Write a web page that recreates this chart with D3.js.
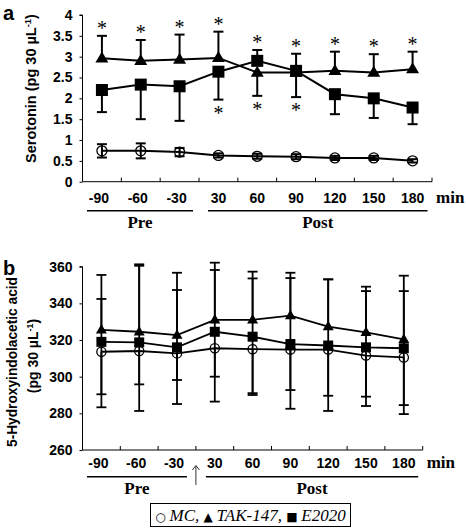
<!DOCTYPE html>
<html><head><meta charset="utf-8">
<script src="https://cdn.jsdelivr.net/npm/d3@7"></script>
<style>
body{margin:0;background:#fff;}
svg{display:block;}
</style></head>
<body>
<svg id="chart" width="466" height="528"></svg>
<script>
// ---------- data ----------
const categories = ["-90","-60","-30","30","60","90","120","150","180"];

// Panel a: Serotonin
const yTicksA = [0,0.5,1,1.5,2,2.5,3,3.5,4];
const mcA = [0.74,0.74,0.71,0.63,0.61,0.60,0.57,0.57,0.50];
const mcAErr = [0.16,0.18,0.10,0.05,0.06,0.06,0.05,0.05,0.04];
const takA = [2.96,2.90,2.93,2.97,2.62,2.62,2.66,2.62,2.70];
const takAErrUp = [0.54,0.50,0.60,0.63,0,0,0.46,0.44,0.42];
const takAErrDown = [0,0,0,0,0.56,0.59,0,0,0];
const e2020A = [2.20,2.33,2.29,2.64,2.90,2.66,2.10,2.00,1.78];
const e2020AErrUp = [0,0,0,0,0.26,0.41,0,0,0];
const e2020AErrDown = [0.53,0.83,0.83,0.67,0,0,0.48,0.47,0.40];
const sigAbove = [true,true,true,true,true,true,true,true,true];
const sigBelow = [false,false,false,true,true,true,false,false,false];

// Panel b: 5-Hydroxyindolacetic acid
const yTicksB = [260,280,300,320,340,360];
const mcB = [313.6,314.0,312.7,315.5,315.0,314.8,314.8,311.5,310.5];
const mcBErrDown = [30.3,32.7,27.6,29.1,25.0,32.3,33.5,27.5,30.9];
const takB = [325.5,324.5,322.7,331.0,331.0,333.3,327.3,324.2,320.4];
const takBErrUp = [30.0,36.8,34.0,31.2,26.3,23.4,25.8,24.9,34.7];
const e2020B = [319.0,318.7,316.0,324.5,321.8,317.8,317.0,316.0,315.5];
const e2020BErrUp = [23.4,41.8,31.3,33.7,31.8,36.0,36.1,30.7,31.2];
const e2020BErrDown = [28.6,22.9,17.8,24.5,30.8,25.1,27.4,26.9,31.0];

const preLabel = "Pre", postLabel = "Post", unitLabel = "min";

// ---------- drawing ----------
const svg = d3.select("#chart");
const SANS = "'Liberation Sans', Arial, sans-serif";
const SERIF = "'Liberation Serif', 'Times New Roman', serif";

function zeros(n){return new Array(n).fill(0);}

function drawPanel(o){
  const x = d3.scaleBand().domain(categories).range([o.x0,o.x1]).padding(0);
  const y = d3.scaleLinear().domain(o.yDomain).range([o.yBottom,o.yTop]);
  const g = svg.append("g");

  // y axis
  const yAxis = d3.axisLeft(y).tickValues(o.yTicks).tickSize(3).tickPadding(7)
     .tickFormat(d=>d3.format(o.yFmt)(d));
  const ya = g.append("g").attr("transform",`translate(${o.x0},0)`).call(yAxis);
  ya.select(".domain").attr("d",`M-3,${y(o.yTicks[o.yTicks.length-1])}H0V${o.yBottom}`).attr("stroke","#000").attr("stroke-width",1);
  ya.selectAll(".tick line").attr("stroke","#000");
  ya.selectAll("text").attr("font-family",SANS).attr("font-weight","bold").attr("font-size",14).attr("fill","#000");

  // x axis: line with upward ticks at band boundaries
  g.append("line").attr("x1",o.x0).attr("x2",o.x1).attr("y1",o.yBottom).attr("y2",o.yBottom)
    .attr("stroke","#000").attr("stroke-width",1);
  const bounds = categories.map(c=>x(c)).concat([o.x1]).slice(1);
  g.selectAll(".xt").data(bounds).join("line")
    .attr("x1",d=>d).attr("x2",d=>d).attr("y1",o.yBottom).attr("y2",o.yBottom-4)
    .attr("stroke","#000").attr("stroke-width",1);
  g.selectAll(".xl").data(categories).join("text")
    .attr("x",d=>x(d)+x.bandwidth()/2 - (d.startsWith("-")?3:0))
    .attr("y",o.yBottom+o.xLabelDy)
    .attr("text-anchor","middle").attr("font-family",SANS).attr("font-weight","bold")
    .attr("font-size",14).text(d=>d);
  g.append("text").attr("x",o.x1+4).attr("y",o.yBottom+o.xLabelDy)
    .attr("font-family",SERIF).attr("font-weight","bold").attr("font-size",17).text(unitLabel);

  // Pre / Post
  const bw = x.bandwidth();
  const preStart = x(categories[0])+4.5, preEnd = x(categories[2])+bw-o.preEndGap;
  const postStart = x(categories[3])+o.postStartGap, postEnd = o.x1-4.5;
  const ly = o.yBottom+o.lineDy;
  [[preStart,preEnd],[postStart,postEnd]].forEach(([a,b])=>{
    g.append("line").attr("x1",a).attr("x2",b).attr("y1",ly).attr("y2",ly).attr("stroke","#000").attr("stroke-width",1.5);
  });
  g.append("text").attr("x",(preStart+preEnd)/2).attr("y",ly+17.5).attr("text-anchor","middle")
    .attr("font-family",SERIF).attr("font-weight","bold").attr("font-size",17).text(preLabel);
  g.append("text").attr("x",(postStart+postEnd)/2).attr("y",ly+17.5).attr("text-anchor","middle")
    .attr("font-family",SERIF).attr("font-weight","bold").attr("font-size",17).text(postLabel);

  const cx = c=>x(c)+bw/2;
  // lines
  o.series.forEach(s=>{
    const line = d3.line().x((d,i)=>cx(categories[i])).y(d=>y(d));
    g.append("path").datum(s.values).attr("d",line).attr("fill","none")
      .attr("stroke","#000").attr("stroke-width",o.lineW);
  });
  // markers
  o.series.forEach(s=>{
    s.values.forEach((v,i)=>{
      const px = cx(categories[i]), py = y(v);
      if(s.shape==="circle"){
        g.append("circle").attr("cx",px).attr("cy",py).attr("r",o.circR)
          .attr("fill","none").attr("stroke","#000").attr("stroke-width",1.3);
      } else if(s.shape==="square"){
        const h=o.sqS/2;
        g.append("rect").attr("x",px-h).attr("y",py-h).attr("width",o.sqS).attr("height",o.sqS).attr("fill","#000");
      } else {
        const w=o.triW/2, hh=o.triH;
        g.append("path").attr("d",`M${px},${py-hh*0.62}L${px+w},${py+hh*0.38}L${px-w},${py+hh*0.38}Z`).attr("fill","#000");
      }
    });
  });
  // error bars
  o.series.forEach(s=>{
    s.values.forEach((v,i)=>{
      const px = cx(categories[i]);
      const up = s.errUp[i], dn = s.errDown[i];
      [[up,1],[dn,-1]].forEach(([e,sgn])=>{
        if(!e) return;
        const yEnd = y(v+sgn*e);
        g.append("line").attr("x1",px).attr("x2",px).attr("y1",y(v)).attr("y2",yEnd)
          .attr("stroke","#000").attr("stroke-width",o.errW);
        g.append("line").attr("x1",px-o.capW/2).attr("x2",px+o.capW/2).attr("y1",yEnd).attr("y2",yEnd)
          .attr("stroke","#000").attr("stroke-width",o.errW);
      });
    });
  });
  // significance asterisks
  if(o.sig){
    categories.forEach((c,i)=>{
      const px = cx(c);
      let hi=-Infinity, lo=Infinity;
      o.series.forEach(s=>{
        if(s.errUp[i]) hi=Math.max(hi,s.values[i]+s.errUp[i]);
        if(s.errDown[i] && s.shape!=="circle") lo=Math.min(lo,s.values[i]-s.errDown[i]);
      });
      if(o.sig.above[i] && isFinite(hi)){
        g.append("text").attr("x",px).attr("y",y(hi)-1).attr("text-anchor","middle")
          .attr("font-family",SERIF).attr("font-size",20).text("*");
      }
      if(o.sig.below[i] && isFinite(lo)){
        g.append("text").attr("x",px).attr("y",y(lo)+20).attr("text-anchor","middle")
          .attr("font-family",SERIF).attr("font-size",20).text("*");
      }
    });
  }
  return {x,y,g};
}

// Panel a
const pa = drawPanel({
  x0:82.5, x1:432, yTop:15, yBottom:181.7, yDomain:[0,4], yTicks:yTicksA, yFmt:"",
  xLabelDy:21, lineDy:29, preEndGap:6, postStartGap:9,
  lineW:2, errW:2, capW:10, circR:5, sqS:12, triW:13, triH:11,
  series:[
    {values:mcA, errUp:mcAErr, errDown:mcAErr, shape:"circle"},
    {values:takA, errUp:takAErrUp, errDown:takAErrDown, shape:"triangle"},
    {values:e2020A, errUp:e2020AErrUp, errDown:e2020AErrDown, shape:"square"}
  ],
  sig:{above:sigAbove, below:sigBelow}
});

// Panel b
const pb = drawPanel({
  x0:82.5, x1:422.7, yTop:266.7, yBottom:450, yDomain:[260,360], yTicks:yTicksB, yFmt:"d",
  xLabelDy:18, lineDy:26.7, preEndGap:9, postStartGap:10,
  lineW:1.8, errW:1.8, capW:10, circR:4.6, sqS:10, triW:11, triH:9.5,
  series:[
    {values:mcB, errUp:zeros(9), errDown:mcBErrDown, shape:"circle"},
    {values:takB, errUp:takBErrUp, errDown:zeros(9), shape:"triangle"},
    {values:e2020B, errUp:e2020BErrUp, errDown:e2020BErrDown, shape:"square"}
  ],
  sig:null
});

// arrow (administration time) in panel b
const arrowX = pb.x(categories[3]);
svg.append("line").attr("x1",arrowX).attr("x2",arrowX).attr("y1",485).attr("y2",466)
  .attr("stroke","#333").attr("stroke-width",1);
svg.append("path").attr("d",`M${arrowX-3.5},${470}L${arrowX},${465.5}L${arrowX+3.5},${470}`)
  .attr("fill","none").attr("stroke","#333").attr("stroke-width",1);

// panel letters
svg.append("text").attr("x",3).attr("y",20).attr("font-family",SANS).attr("font-weight","bold").attr("font-size",20).text("a");
svg.append("text").attr("x",3).attr("y",275).attr("font-family",SANS).attr("font-weight","bold").attr("font-size",20).text("b");

// y labels
function unitText(sel){
  sel.append("tspan").text("(pg 30 \u00B5L");
  sel.append("tspan").attr("dy",-5).attr("font-size","0.65em").text("-1");
  sel.append("tspan").attr("dy",5).text(")");
}
const la = svg.append("text").attr("transform","translate(36,88.5) rotate(-90)")
  .attr("text-anchor","middle").attr("font-family",SANS).attr("font-weight","bold").attr("font-size",14.5);
la.append("tspan").text("Serotonin  ");
unitText(la);

svg.append("text").attr("transform","translate(17,362) rotate(-90)")
  .attr("text-anchor","middle").attr("font-family",SANS).attr("font-weight","bold").attr("font-size",14)
  .attr("textLength",170).attr("lengthAdjust","spacingAndGlyphs")
  .text("5-Hydroxyindolacetic acid");
const lb2 = svg.append("text").attr("transform","translate(38,356) rotate(-90)")
  .attr("text-anchor","middle").attr("font-family",SANS).attr("font-weight","bold").attr("font-size",14);
unitText(lb2);

// legend
svg.append("rect").attr("x",150.5).attr("y",503.5).attr("width",200).attr("height",23)
  .attr("fill","#fff").attr("stroke","#000").attr("stroke-width",1);
const leg = svg.append("text").attr("x",250.5).attr("y",521).attr("text-anchor","middle")
  .attr("font-family",SERIF).attr("font-size",17);
leg.append("tspan").attr("font-family","'DejaVu Sans'").attr("font-size",12).text("\u25CB ");
leg.append("tspan").attr("font-style","italic").text("MC, ");
leg.append("tspan").attr("font-family","'DejaVu Sans'").attr("font-size",12).text("\u25B2 ");
leg.append("tspan").attr("font-style","italic").text("TAK-147, ");
leg.append("tspan").attr("font-family","'DejaVu Sans'").attr("font-size",12).text("\u25A0 ");
leg.append("tspan").attr("font-style","italic").text("E2020");
</script>
</body></html>
